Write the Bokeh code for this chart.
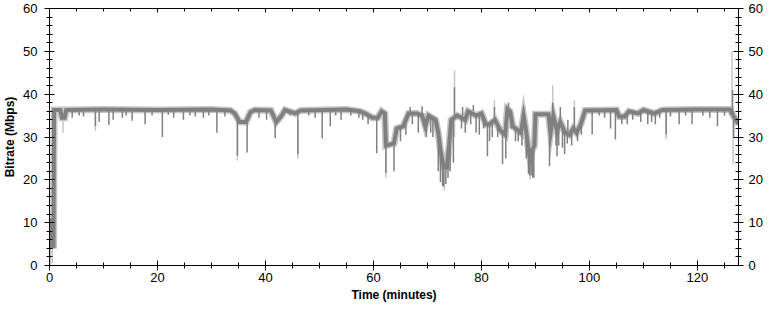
from bokeh.plotting import figure
from bokeh.models import LinearAxis, SingleIntervalTicker, Range1d, CustomJSTickFormatter
from bokeh.embed import file_html
from bokeh.resources import INLINE

# ---- data ----
# slowly varying level of the bitrate trace (minutes, Mbps)
time_min = [0.0, 0.2, 0.4, 0.6, 0.75, 0.85, 1.0, 2.0, 2.3, 2.8, 3.1, 10.0, 20.0, 30.0, 33.5, 34.3, 35.2, 36.4,
            37.2, 38.0, 41.0, 42.0, 43.0, 43.6, 45.5, 46.5, 55.0, 57.5, 58.5, 59.8, 60.8, 61.5, 62.1, 62.3, 63.8,
            64.3, 65.5, 66.5, 68.0, 69.0, 69.6, 70.2, 71.5, 72.0, 72.4, 73.0, 73.6, 74.0, 74.4, 75.5, 77.0, 77.5,
            79.0, 80.0, 80.8, 81.5, 82.5, 83.5, 84.4, 84.8, 85.3, 85.8, 87.3, 87.8, 88.2, 88.6, 89.0, 89.4, 89.8,
            90.0, 92.4, 92.8, 93.3, 94.0, 94.6, 95.5, 96.3, 97.0, 97.6, 98.4, 99.2, 105.0, 105.5, 106.5, 107.3,
            109.0, 110.0, 112.0, 113.5, 120.0, 126.0, 126.6, 127.6]
bitrate = [8, 4, 11, 8, 4, 36.3, 36.3, 36.3, 34.5, 34.5, 36.3, 36.4, 36.3, 36.4, 36.2, 35.5, 33.5, 33.5,
           35.8, 36.3, 36.2, 33.5, 35, 36.3, 35.5, 36.2, 36.4, 36, 35.5, 34.5, 34.5, 36, 35.5, 28, 28.5,
           32, 32.5, 35.5, 35.5, 35, 32.5, 35, 34, 31, 27, 23, 23, 28, 34, 35, 34, 36,
           35, 35.5, 33, 33, 34, 31.5, 30.5, 36.5, 36, 32.5, 31, 35, 32, 28, 25, 27, 28,
           35.3, 35.3, 31, 35, 31.5, 33.5, 31, 30.5, 32, 31, 33, 36.2, 36.3, 34.8, 34.8, 36,
           35.5, 36.3, 35.5, 36.3, 36.4, 36.4, 35, 33]

# short dark drops / jumps away from the level (minutes, from, to)
dip_time = [8.5, 9.2, 11.0, 11.8, 13.5, 15.3, 17.7, 20.9, 23.0, 24.8, 28.5, 31.0, 34.8, 36.6, 40.2, 41.8, 46.0,
            50.5, 52.0, 54.0, 57.3, 60.6, 62.3, 63.8, 69.8, 72.8, 74.8, 79.0, 81.1, 83.9, 84.5, 88.9, 89.5, 92.6,
            94.0, 95.4, 100.5, 103.9, 104.8, 107.0, 110.8, 111.5, 112.2, 114.2, 116.6, 119.0, 123.7, 126.7,
            4.2, 5.5, 6.3, 14.2, 19.0, 22.0, 26.0, 27.0, 29.5, 32.5, 38.8, 44.5, 48.0, 49.2, 53.0, 55.8, 58.0,
            59.0, 101.8, 102.8, 106.0, 108.0, 109.5, 113.0, 115.0, 117.8, 121.0, 122.3, 125.0,
            65.0, 66.0, 67.2, 68.3, 70.6, 71.0, 72.0, 72.4, 73.0, 73.4, 73.8, 74.2, 76.3, 77.0, 78.0, 79.6,
            80.4, 81.5, 82.0, 83.0, 85.5, 86.3, 86.8, 87.5, 88.3, 88.7, 89.2, 89.7, 93.8, 94.3, 95.0, 95.9,
            96.7, 97.8, 98.5,
            75.0, 93.2, 126.5, 82.4, 97.2, 66.8, 69.0, 76.5, 78.5, 85.0, 87.8, 94.6, 96.0]
dip_from = [36, 36, 36, 36, 36, 36, 36, 36, 36, 36, 36, 36, 35, 33.5, 36, 33.5, 35.5,
            36, 36, 36, 36, 34.5, 35, 28, 33, 23, 34, 35, 33, 31, 30.5, 26, 27, 35,
            32, 31, 36, 36, 36, 36, 36, 36, 36, 36, 36, 36, 36, 36,
            36, 36, 36, 36, 36, 36, 36, 36, 36, 36, 36, 36, 36, 36, 36, 36, 36,
            35.5, 36, 36, 35, 36, 35.5, 36, 36, 36, 36, 36, 36,
            32, 33, 35.5, 35.5, 34.5, 34, 31, 27, 23, 23, 25, 30, 35, 34, 36, 35,
            35, 33, 33.5, 33, 36, 32.5, 31.5, 31, 32, 28, 26, 27, 33, 33, 32, 31,
            31, 31, 33,
            35, 35, 36, 34, 32, 35.5, 35, 35, 36, 36, 35, 33.5, 31]
dip_to = [32.5, 33.5, 32.8, 34, 34.5, 33.8, 33, 30, 34.5, 34, 34.5, 31, 25.7, 26.4, 34, 29.7, 26,
          29.7, 32.5, 34, 34.5, 26.2, 21.6, 22, 30, 18.5, 24, 31, 25.5, 23.7, 25, 21, 20.5, 23.2,
          25.5, 26, 30.6, 32, 29.4, 33, 33, 33.5, 33, 30.6, 33, 33, 32.5, 30,
          34.5, 35, 34.8, 35, 35, 35.2, 35, 34.8, 35, 34.8, 34.5, 35, 35, 34.5, 35, 35, 34,
          33, 35, 34.5, 33, 34, 33.5, 34.5, 34.8, 35, 35, 34.5, 35,
          29, 30.5, 33, 31, 31, 30, 22, 19.5, 18.5, 19, 20.5, 22, 32, 31, 33, 30.5,
          32, 29, 30, 30, 32, 29, 29, 28, 25, 21.5, 21, 20.5, 28, 28, 27.5, 28.5,
          28, 29, 30.5,
          41.6, 38, 41, 37, 37, 37, 37.2, 37, 37.5, 38, 37, 37, 34]

# light-grey short-term extremes (minutes, low, high)
peak_time = [0.2, 0.5, 0.85, 2.5, 8.5, 34.8, 46.0, 62.3, 73.1, 75.0, 82.4, 89.0, 93.2, 97.2, 114.2, 126.4, 126.6]
peak_low = [0.0, 0.5, 28.5, 31.0, 31.5, 24.5, 25.0, 20.5, 17.5, 30.0, 33.0, 20.0, 30.0, 32.0, 29.5, 36.0, 23.7]
peak_high = [9.0, 16.0, 36.0, 36.5, 36.5, 33.0, 34.0, 28.0, 22.0, 45.5, 38.6, 26.0, 42.0, 38.6, 36.5, 50.0, 37.0]

x_tick_interval = 20
y_tick_interval = 10

FONT = "Liberation Sans"

p = figure(width=765, height=304, output_backend="svg", toolbar_location=None,
           x_range=Range1d(0, 127.6), y_range=Range1d(0, 60),
           min_border_top=8, min_border_right=0, min_border_left=0, min_border_bottom=0,
           x_axis_location=None, y_axis_location=None)
p.xgrid.visible = False
p.ygrid.visible = False
p.outline_line_color = "black"
p.outline_line_width = 1
p.background_fill_color = "white"
p.border_fill_color = "white"

grey_light = "#c6c6c6"
grey_dark = "#808080"

p.line(time_min, bitrate, line_color=grey_light, line_width=7, line_join="miter")
p.segment(x0=peak_time, y0=peak_low, x1=peak_time, y1=peak_high, line_color=grey_light, line_width=1.5)
p.line(time_min, bitrate, line_color=grey_dark, line_width=4, line_join="miter")
p.segment(x0=dip_time, y0=dip_from, x1=dip_time, y1=dip_to, line_color=grey_dark, line_width=1.5)


def style(ax, tin, tout, mtin, mtout):
    ax.axis_line_color = "black"
    ax.major_tick_line_color = "black"
    ax.minor_tick_line_color = "black"
    ax.major_tick_in = tin
    ax.major_tick_out = tout
    ax.minor_tick_in = mtin
    ax.minor_tick_out = mtout
    ax.major_label_text_font = FONT
    ax.major_label_text_font_size = "13px"
    ax.major_label_text_color = "black"
    ax.axis_label_text_font = FONT
    ax.axis_label_text_font_size = "12px"
    ax.axis_label_text_font_style = "bold"
    ax.axis_label_text_color = "black"


xt = SingleIntervalTicker(interval=x_tick_interval, num_minor_ticks=4)
yt = SingleIntervalTicker(interval=y_tick_interval, num_minor_ticks=5)

bottom = LinearAxis(ticker=xt, axis_label="Time (minutes)")
style(bottom, 5, 5, 3, 3)
bottom.major_label_standoff = 2
bottom.axis_label_standoff = 3
p.add_layout(bottom, "below")

top = LinearAxis(ticker=xt, formatter=CustomJSTickFormatter(code="return ''"))
style(top, 4, 0, 3, 0)
top.major_label_standoff = 0
top.axis_label_standoff = 0
p.add_layout(top, "above")

left = LinearAxis(ticker=yt, axis_label="Bitrate (Mbps)")
style(left, 5, 5, 3, 3)
left.major_label_standoff = 7
left.axis_label_standoff = 3
p.add_layout(left, "left")

right = LinearAxis(ticker=yt)
style(right, 5, 5, 3, 3)
right.major_label_standoff = 5
right.axis_label_standoff = 0
p.add_layout(right, "right")

open("out.html", "w").write(file_html(p, INLINE))
